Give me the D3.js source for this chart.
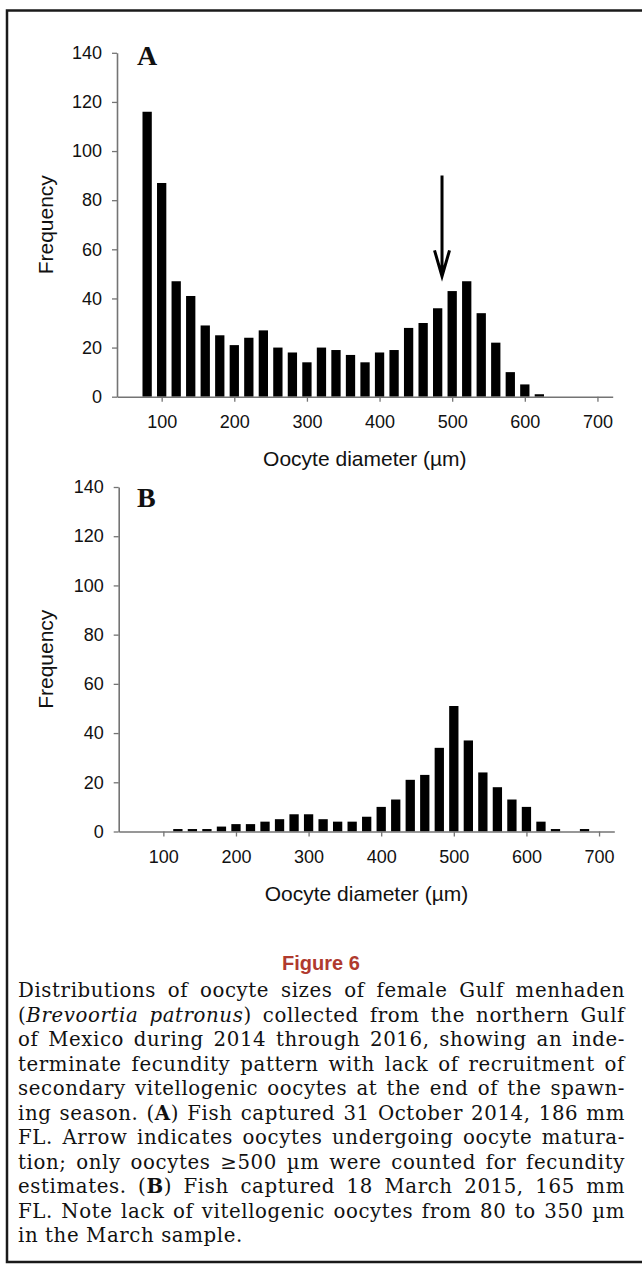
<!DOCTYPE html>
<html>
<head>
<meta charset="utf-8">
<script src="https://cdn.jsdelivr.net/npm/d3@7"></script>
<style>
  body { margin: 0; background: #fff; }
  svg { display: block; }
</style>
</head>
<body>
<svg id="fig" width="642" height="1272"></svg>
<script>
// Panel A: fish captured 31 Oct 2014 (bin centre in µm, count)
const diameterA = [80, 100, 120, 140, 160, 180, 200, 220, 240, 260, 280, 300, 320, 340,
                   360, 380, 400, 420, 440, 460, 480, 500, 520, 540, 560, 580, 600, 620];
const frequencyA = [116, 87, 47, 41, 29, 25, 21, 24, 27, 20, 18, 14, 20, 19,
                    17, 14, 18, 19, 28, 30, 36, 43, 47, 34, 22, 10, 5, 1];

// Panel B: fish captured 18 Mar 2015
const diameterB = [120, 140, 160, 180, 200, 220, 240, 260, 280, 300, 320, 340, 360, 380, 400,
                   420, 440, 460, 480, 500, 520, 540, 560, 580, 600, 620, 640, 660, 680];
const frequencyB = [1, 1, 1, 2, 3, 3, 4, 5, 7, 7, 5, 4, 4, 6, 10,
                    13, 21, 23, 34, 51, 37, 24, 18, 13, 10, 4, 1, 0, 1];

const xTicks = [100, 200, 300, 400, 500, 600, 700];
const yTicks = [0, 20, 40, 60, 80, 100, 120, 140];

// arrow in panel A: diameter, start and tip frequency
const arrowA = { diameter: 486, from: 90, to: 49 };

const captionLines = [
  [["Distributions of oocyte sizes of female Gulf menhaden"]],
  [["("], ["Brevoortia patronus", "i"], [") collected from the northern Gulf"]],
  [["of Mexico during 2014 through 2016, showing an inde-"]],
  [["terminate fecundity pattern with lack of recruitment of"]],
  [["secondary vitellogenic oocytes at the end of the spawn-"]],
  [["ing season. ("], ["A", "b"], [") Fish captured 31 October 2014, 186 mm"]],
  [["FL. Arrow indicates oocytes undergoing oocyte matura-"]],
  [["tion; only oocytes \u2265500 \u00b5m were counted for fecundity"]],
  [["estimates. ("], ["B", "b"], [") Fish captured 18 March 2015, 165 mm"]],
  [["FL. Note lack of vitellogenic oocytes from 80 to 350 \u00b5m"]],
  [["in the March sample."]]
];

const svg = d3.select('#fig');
const axisColor = '#747474';
const sans = "'Liberation Sans', Arial, sans-serif";
const serif = "'Liberation Serif', 'Times New Roman', serif";

// frame round the figure
svg.append('path')
  .attr('d', 'M650,10.5 H7 V1262 H650')
  .attr('fill', 'none')
  .attr('stroke', '#1a1a1a')
  .attr('stroke-width', 2.5);

drawPanel({
  label: 'A', diameters: diameterA, counts: frequencyA,
  left: 117, right: 612.7, top: 52.8, bottom: 396.7, arrow: arrowA
});
drawPanel({
  label: 'B', diameters: diameterB, counts: frequencyB,
  left: 118.7, right: 614.3, top: 487, bottom: 831.5
});

function drawPanel(p) {
  const x = d3.scaleLinear().domain([38.5, 721]).range([p.left, p.right]);
  const y = d3.scaleLinear().domain([0, 140]).range([p.bottom, p.top]);
  const g = svg.append('g');
  const barW = (x(20) - x(0)) * 0.64;

  g.selectAll('rect.bar')
    .data(p.diameters.map((d, i) => ({ d, n: p.counts[i] })))
    .join('rect')
    .attr('class', 'bar')
    .attr('x', d => x(d.d) - barW / 2)
    .attr('y', d => y(d.n))
    .attr('width', barW)
    .attr('height', d => y(0) - y(d.n))
    .attr('fill', '#000');

  const xAxis = g.append('g')
    .attr('transform', `translate(0,${p.bottom})`)
    .call(d3.axisBottom(x).tickValues(xTicks).tickSize(5).tickSizeOuter(0).tickPadding(14));
  const yAxis = g.append('g')
    .attr('transform', `translate(${p.left},0)`)
    .call(d3.axisLeft(y).tickValues(yTicks).tickSize(5).tickSizeOuter(0).tickPadding(10));

  [xAxis, yAxis].forEach(a => {
    a.select('.domain').attr('stroke', axisColor).attr('stroke-width', 1.6);
    a.selectAll('.tick line').attr('stroke', axisColor).attr('stroke-width', 1.3);
    a.selectAll('.tick text')
      .attr('fill', '#111')
      .style('font-family', sans)
      .style('font-size', '18px');
  });

  // axis titles
  g.append('text')
    .attr('x', (p.left + p.right) / 2)
    .attr('y', p.bottom + 69.5)
    .attr('text-anchor', 'middle')
    .style('font-family', sans)
    .style('font-size', '21px')
    .attr('fill', '#111')
    .text('Oocyte diameter (\u00b5m)');

  g.append('text')
    .attr('transform', `translate(53,${(p.top + p.bottom) / 2}) rotate(-90)`)
    .attr('text-anchor', 'middle')
    .style('font-family', sans)
    .style('font-size', '21px')
    .attr('fill', '#111')
    .text('Frequency');

  // panel letter
  g.append('text')
    .attr('x', 137)
    .attr('y', p.top + (p.label === 'A' ? 12 : 20))
    .style('font-family', serif)
    .style('font-weight', 'bold')
    .style('font-size', '28px')
    .attr('fill', '#111')
    .text(p.label);

  if (p.arrow) {
    const ax = x(p.arrow.diameter), tipY = y(p.arrow.to);
    g.append('path')
      .attr('d', `M${ax},${y(p.arrow.from)} V${tipY} M${ax - 7.5},${tipY - 26} L${ax},${tipY} L${ax + 7.5},${tipY - 26}`)
      .attr('fill', 'none')
      .attr('stroke', '#000')
      .attr('stroke-width', 3);
  }
}

// caption
svg.append('text')
  .attr('x', 321)
  .attr('y', 970)
  .attr('text-anchor', 'middle')
  .style('font-family', sans)
  .style('font-weight', 'bold')
  .style('font-size', '20px')
  .attr('fill', '#b03a2e')
  .text('Figure 6');

const capLeft = 18, capRight = 625;
const capLines = captionLines.map((segs, i) => {
  const t = svg.append('text')
    .attr('x', capLeft)
    .attr('y', 997 + i * 24.5)
    .style('font-family', "'DejaVu Serif', serif")
    .style('font-size', '16px')
    .style('letter-spacing', '0.6px')
    .attr('fill', '#111');
  segs.forEach(([s, st]) => {
    t.append('tspan')
      .style('font-style', st === 'i' ? 'italic' : null)
      .style('font-weight', st === 'b' ? 'bold' : null)
      .text(s);
  });
  return t;
});

// pick a size so the widest line just fits, then justify all but the last line
const widest = d3.max(capLines, t => t.node().getComputedTextLength());
const capSize = 16 * (capRight - capLeft - 4) / widest;
capLines.forEach((t, i) => {
  t.style('font-size', capSize + 'px');
  if (i < capLines.length - 1) {
    const w = t.node().getComputedTextLength();
    const spaces = t.text().split(' ').length - 1;
    t.style('word-spacing', Math.max(0, (capRight - capLeft - w) / spaces) + 'px');
  }
});
</script>
</body>
</html>
